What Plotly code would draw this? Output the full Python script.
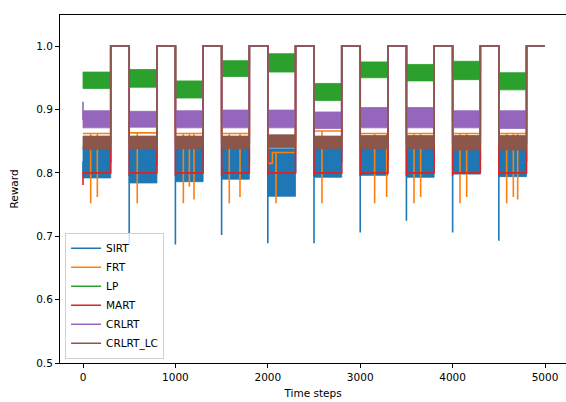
import plotly.graph_objects as go

# ---- data ----
episode_start = [0, 500, 1000, 1500, 2000, 2500, 3000, 3500, 4000, 4500]
plateau_start = [300, 800, 1300, 1800, 2300, 2800, 3300, 3800, 4300, 4800]
t_last = 5000
plateau_reward = 1.0

# SIRT (blue) band per episode + value at episode start
sirt_lo = [0.792, 0.784, 0.786, 0.790, 0.763, 0.793, 0.796, 0.793, 0.798, 0.794]
sirt_hi = [0.842, 0.842, 0.842, 0.842, 0.838, 0.842, 0.845, 0.845, 0.843, 0.843]
sirt_first = [0.800, 0.686, 0.687, 0.702, 0.689, 0.689, 0.706, 0.7245, 0.706, 0.693]

# FRT (orange) level per episode, steps and downward spikes
frt_level = [0.862, 0.863, 0.862, 0.862, 0.815, 0.866, 0.862, 0.862, 0.862, 0.862]
frt_step_t = [2050]
frt_step_v = [0.832]
frt_spike_t = [83, 155, 587, 1086, 1151, 1201, 1583, 1699, 2089, 2586,
               3156, 3286, 3582, 3654, 4080, 4152, 4585, 4657, 4704]
frt_spike_v = [0.752, 0.762, 0.752, 0.752, 0.778, 0.758, 0.752, 0.762, 0.752, 0.752,
               0.752, 0.762, 0.752, 0.762, 0.752, 0.762, 0.752, 0.762, 0.758]

# LP (green) band per episode
lp_lo = [0.933, 0.935, 0.918, 0.952, 0.959, 0.914, 0.950, 0.945, 0.947, 0.931]
lp_hi = [0.959, 0.963, 0.945, 0.977, 0.988, 0.941, 0.975, 0.971, 0.976, 0.958]

# MART (red) level per episode + value at episode start
mart_level = [0.800, 0.800, 0.800, 0.800, 0.800, 0.800, 0.800, 0.800, 0.800, 0.800]
mart_first = [0.781, 0.795, 0.795, 0.795, 0.795, 0.795, 0.795, 0.795, 0.795, 0.795]

# CRLRT (purple) band per episode + value at episode start
crlrt_lo = [0.871, 0.872, 0.871, 0.871, 0.871, 0.870, 0.871, 0.871, 0.871, 0.870]
crlrt_hi = [0.898, 0.897, 0.898, 0.899, 0.899, 0.896, 0.903, 0.903, 0.898, 0.898]
crlrt_first = [0.912, 0.880, 0.880, 0.880, 0.880, 0.880, 0.915, 0.915, 0.880, 0.880]

# CRLRT_LC (brown) band per episode
lc_lo = [0.837, 0.838, 0.838, 0.838, 0.840, 0.838, 0.838, 0.838, 0.836, 0.836]
lc_hi = [0.858, 0.858, 0.858, 0.858, 0.860, 0.858, 0.859, 0.859, 0.859, 0.859]

series_names = ["SIRT", "FRT", "LP", "MART", "CRLRT", "CRLRT_LC"]
colors = ["#1f77b4", "#ff7f0e", "#2ca02c", "#d62728", "#9467bd", "#8c564b"]

n_ep = len(episode_start)


def episode_end(k):
    return episode_start[k + 1] if k + 1 < n_ep else t_last


def band_polygon(lo, hi):
    xs, ys = [], []
    for k in range(n_ep):
        s, p = episode_start[k], plateau_start[k]
        xs += [s, p, p, s, s, None]
        ys += [hi[k], hi[k], lo[k], lo[k], hi[k], None]
    return xs, ys


def band_path(lo, hi, first=None):
    xs, ys = [], []
    for k in range(n_ep):
        s, p, e = episode_start[k], plateau_start[k], episode_end(k)
        mid = (lo[k] + hi[k]) / 2
        f = first[k] if first is not None else mid
        xs += [s, s, p, p, e]
        ys += [f, mid, mid, plateau_reward, plateau_reward]
    return xs, ys


def level_path(level, first=None, spikes_t=(), spikes_v=(), step_t=(), step_v=()):
    xs, ys = [], []
    for k in range(n_ep):
        s, p, e = episode_start[k], plateau_start[k], episode_end(k)
        f = first[k] if first is not None else level[k]
        events = []
        for t, v in zip(spikes_t, spikes_v):
            if s <= t < p:
                events.append((t, "spike", v))
        for t, v in zip(step_t, step_v):
            if s <= t < p:
                events.append((t, "step", v))
        events.sort()
        cur = level[k]
        xs += [s, s]
        ys += [f, cur]
        for t, kind, v in events:
            if kind == "spike":
                xs += [t, t, t]
                ys += [cur, v, cur]
            else:
                xs += [t, t]
                ys += [cur, v]
                cur = v
        xs += [p, p, e]
        ys += [cur, plateau_reward, plateau_reward]
    return xs, ys


fig = go.Figure()
LW = 1.6


def add_band(name, color, lo, hi, first=None):
    bx, by = band_polygon(lo, hi)
    fig.add_trace(go.Scatter(x=bx, y=by, mode="lines", fill="toself", fillcolor=color,
                             line=dict(color=color, width=0.8), showlegend=False,
                             legendgroup=name, hoverinfo="skip"))
    px, py = band_path(lo, hi, first)
    fig.add_trace(go.Scatter(x=px, y=py, mode="lines", name=name, legendgroup=name,
                             line=dict(color=color, width=LW)))


add_band("SIRT", colors[0], sirt_lo, sirt_hi, sirt_first)
fx, fy = level_path(frt_level, None, frt_spike_t, frt_spike_v, frt_step_t, frt_step_v)
fig.add_trace(go.Scatter(x=fx, y=fy, mode="lines", name="FRT",
                         line=dict(color=colors[1], width=LW)))
add_band("LP", colors[2], lp_lo, lp_hi)
mx, my = level_path(mart_level, mart_first)
fig.add_trace(go.Scatter(x=mx, y=my, mode="lines", name="MART",
                         line=dict(color=colors[3], width=LW)))
add_band("CRLRT", colors[4], crlrt_lo, crlrt_hi, crlrt_first)
add_band("CRLRT_LC", colors[5], lc_lo, lc_hi)

font = dict(family="DejaVu Sans", size=10.5, color="#000000")

fig.update_layout(
    width=566, height=402,
    margin=dict(l=60, r=0, t=15, b=39),
    paper_bgcolor="white", plot_bgcolor="white",
    font=font,
    showlegend=True,
    legend=dict(x=0.01, y=0.012, xanchor="left", yanchor="bottom",
                bgcolor="rgba(255,255,255,0.8)", bordercolor="#d0d0d0", borderwidth=1,
                font=dict(family="DejaVu Sans", size=10.5, color="#000000"),
                tracegroupgap=0, itemwidth=30),
)
fig.update_xaxes(range=[-249, 5227], showgrid=False, zeroline=False, automargin=False,
                 showline=True, linecolor="#000000", linewidth=1, mirror=True,
                 ticks="outside", ticklen=4, tickcolor="#000000",
                 tickvals=[0, 1000, 2000, 3000, 4000, 5000],
                 title=dict(text="Time steps", standoff=8, font=font))
fig.update_yaxes(range=[0.5, 1.049], showgrid=False, zeroline=False, automargin=False,
                 showline=True, linecolor="#000000", linewidth=1,
                 ticks="outside", ticklen=4, tickcolor="#000000",
                 tickvals=[0.5, 0.6, 0.7, 0.8, 0.9, 1.0], tickformat=".1f",
                 title=dict(text="Reward", standoff=15, font=font))

fig.write_html("out.html", config={"displayModeBar": False},
               post_script="document.body.style.margin='0';document.body.style.overflow='hidden';")
